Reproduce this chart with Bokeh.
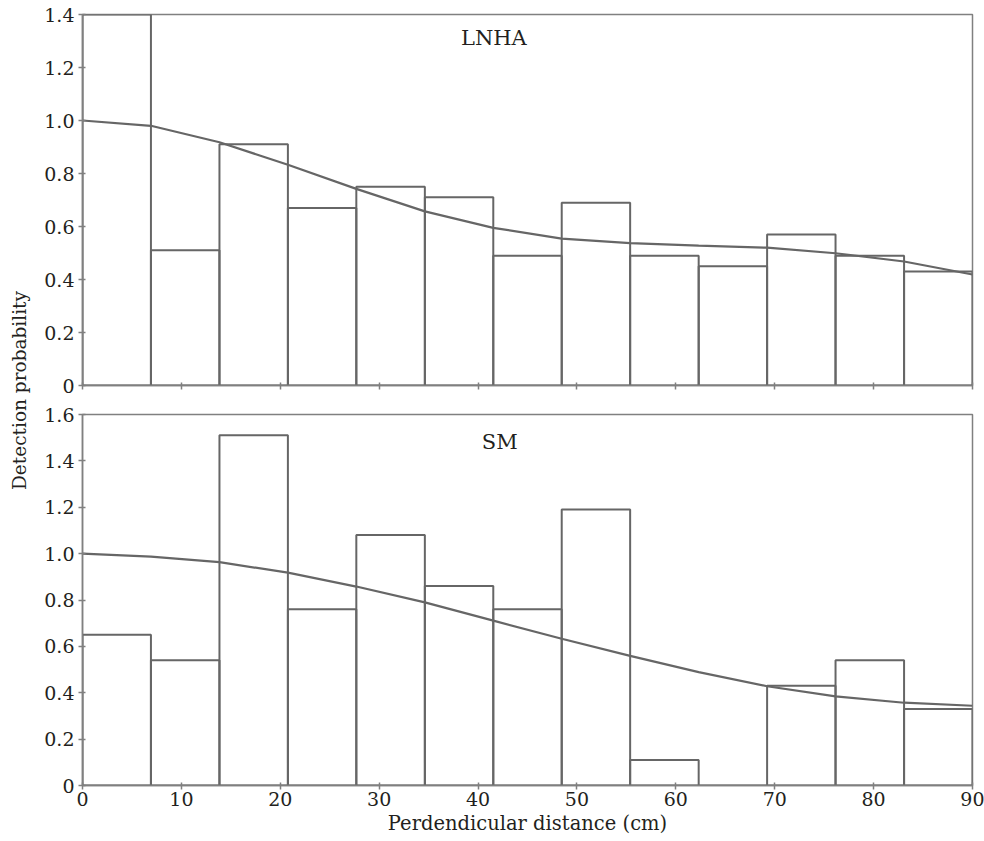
import math
from bokeh.plotting import figure
from bokeh.layouts import row, column
from bokeh.models import FixedTicker, CustomJSTickFormatter, Label
from bokeh.embed import file_html
from bokeh.resources import INLINE

# ---------------- data ----------------
bin_edges = [0.0, 6.92, 13.85, 20.77, 27.69, 34.62, 41.54, 48.46,
             55.38, 62.31, 69.23, 76.15, 83.08, 90.0]

lnha_bars = [1.40, 0.51, 0.91, 0.67, 0.75, 0.71, 0.49, 0.69, 0.49, 0.45, 0.57, 0.49, 0.43]
lnha_curve = [1.00, 0.98, 0.918, 0.833, 0.742, 0.657, 0.595, 0.554, 0.537, 0.528, 0.520, 0.499, 0.468, 0.419]

sm_bars = [0.65, 0.54, 1.51, 0.76, 1.08, 0.86, 0.76, 1.19, 0.11, 0.0, 0.43, 0.54, 0.33]
sm_curve = [1.00, 0.987, 0.963, 0.918, 0.858, 0.790, 0.711, 0.633, 0.559, 0.489, 0.428, 0.384, 0.357, 0.344]

x_ticks = [0, 10, 20, 30, 40, 50, 60, 70, 80, 90]
y_ticks_top = [0, 0.2, 0.4, 0.6, 0.8, 1.0, 1.2, 1.4]
y_ticks_bottom = [0, 0.2, 0.4, 0.6, 0.8, 1.0, 1.2, 1.4, 1.6]

x_label = "Perdendicular distance (cm)"
y_label = "Detection probability"
panel_names = ["LNHA", "SM"]

# ---------------- style ----------------
FONT = "DejaVu Serif"
LINE = "#666666"
FRAME = "#808080"
TEXT = "#231f20"

y_fmt = CustomJSTickFormatter(code="return tick == 0 ? '0' : tick.toFixed(1);")


def style(p, yticks):
    p.xgrid.visible = False
    p.ygrid.visible = False
    p.outline_line_color = FRAME
    p.outline_line_width = 1.5
    p.background_fill_color = "white"
    p.border_fill_color = "white"
    p.xaxis.ticker = FixedTicker(ticks=x_ticks)
    p.yaxis.ticker = FixedTicker(ticks=yticks)
    p.yaxis.formatter = y_fmt
    for ax in (p.xaxis, p.yaxis):
        ax.axis_line_color = FRAME
        ax.axis_line_width = 1.5
        ax.major_tick_line_color = FRAME
        ax.major_tick_line_width = 1.5
        ax.major_tick_in = 3
        ax.major_tick_out = 4
        ax.minor_tick_line_color = None
        ax.major_label_text_font = FONT
        ax.major_label_text_font_size = "19px"
        ax.major_label_text_color = TEXT
    p.yaxis.major_label_standoff = 4


lefts = bin_edges[:-1]
rights = bin_edges[1:]

# top panel
p1 = figure(width=952, height=400, x_range=(0, 90), y_range=(0, 1.4),
            output_backend="svg", toolbar_location=None,
            min_border_left=50, min_border_right=12, min_border_top=14,
            min_border_bottom=15)
style(p1, y_ticks_top)
p1.xaxis.formatter = CustomJSTickFormatter(code="return '';")
p1.xaxis.major_label_text_font_size = "1px"
p1.xaxis.major_label_standoff = 0
p1.quad(left=lefts, right=rights, bottom=0, top=lnha_bars,
        fill_color=None, line_color=LINE, line_width=2)
p1.line(bin_edges, lnha_curve, line_color=LINE, line_width=2.2)
p1.add_layout(Label(x=41.6, y=1.31, text=panel_names[0], text_align="center",
                    text_baseline="middle", text_font=FONT,
                    text_font_size="21px", text_color=TEXT))

# bottom panel
p2 = figure(width=952, height=441, x_range=(0, 90), y_range=(0, 1.6),
            output_backend="svg", toolbar_location=None,
            min_border_left=50, min_border_right=12, min_border_top=14,
            min_border_bottom=56)
style(p2, y_ticks_bottom)
p2.xaxis.major_label_standoff = 2
p2.xaxis.axis_label = x_label
p2.xaxis.axis_label_standoff = 3
p2.xaxis.axis_label_text_font = FONT
p2.xaxis.axis_label_text_font_size = "19.5px"
p2.xaxis.axis_label_text_font_style = "normal"
p2.xaxis.axis_label_text_color = TEXT
p2.quad(left=lefts, right=rights, bottom=0, top=sm_bars,
        fill_color=None, line_color=LINE, line_width=2)
p2.line(bin_edges, sm_curve, line_color=LINE, line_width=2.2)
p2.add_layout(Label(x=42.2, y=1.48, text=panel_names[1], text_align="center",
                    text_baseline="middle", text_font=FONT,
                    text_font_size="21px", text_color=TEXT))

# shared y-axis label strip
lab = figure(width=32, height=841, x_range=(0, 32), y_range=(0, 841),
             output_backend="svg", toolbar_location=None,
             x_axis_type=None, y_axis_type=None, min_border=0,
             outline_line_color=None)
lab.xgrid.visible = False
lab.ygrid.visible = False
lab.add_layout(Label(x=19, y=451, text=y_label, angle=math.pi / 2,
                     text_align="center", text_baseline="middle",
                     text_font=FONT, text_font_size="18.5px", text_color=TEXT))

layout = row(lab, column(p1, p2))

open("out.html", "w").write(file_html(layout, INLINE))
